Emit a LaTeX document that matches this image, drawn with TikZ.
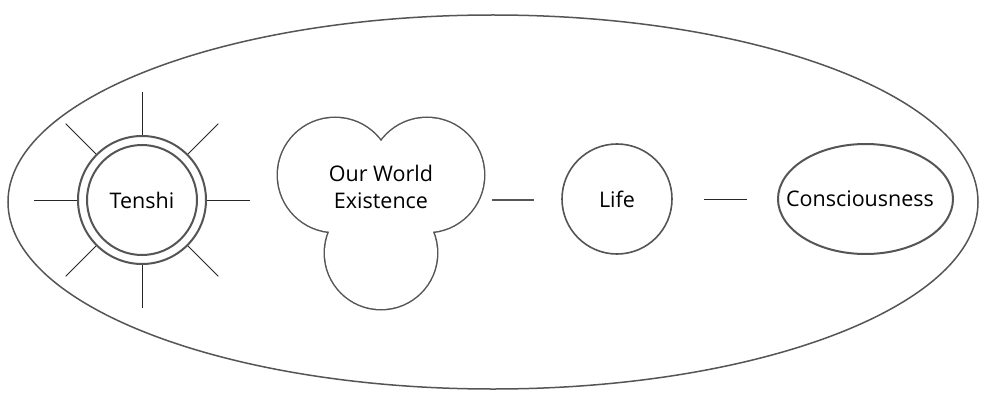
\documentclass[tikz,border=0pt]{standalone}
\usepackage{fontspec}
\setmainfont{Open Sans}
\usetikzlibrary{shapes.geometric,calc}
\definecolor{edge}{HTML}{555555}
\tikzset{
  shapeline/.style={draw=edge, line width=1.6pt},
  ray/.style={draw=black!85, line width=0.9pt},
  link/.style={draw=edge, line width=1.2pt},
  lbl/.style={font=\fontsize{21.5}{27}\selectfont, text=black, align=center},
}
\begin{document}
\begin{tikzpicture}[x=1pt,y=-1pt]
\useasboundingbox (0,0) rectangle (982,393);
\clip (0,0) rectangle (982,393);
\fill[white] (0,0) rectangle (982,393);
% cut-off text at top
\node[lbl, anchor=base, inner sep=0pt] (topfrag) at (196,-6) {y};
% outer ellipse
\draw[shapeline, line width=1.5pt] (493,202) ellipse [x radius=485, y radius=187];
% Tenshi
\coordinate (tc) at (142,200);
\foreach \a in {0,45,...,315} {
  \draw[ray] ($(tc)+(\a:64)$) -- ($(tc)+(\a:108)$);
}
\node[circle, shapeline, line width=2pt, minimum size=128pt, fill=white] (tenshiouter) at (tc) {};
\node[circle, shapeline, line width=2pt, minimum size=110pt, lbl] (tenshi) at (tc) {Tenshi};
% cloud: union of three circles
\coordinate (c1) at (335,175);
\coordinate (c2) at (427,175);
\coordinate (c3) at (381,253);
\draw[draw=edge, line width=3pt] (c1) circle (57) (c2) circle (57) (c3) circle (56);
\fill[white] (c1) circle (57) (c2) circle (57) (c3) circle (56);
\node[lbl] (world) at (381,187) {Our World\\Existence};
% Life
\node[circle, shapeline, minimum size=110pt, lbl] (life) at (617,199) {Life};
% Consciousness
\node[ellipse, shapeline, line width=2pt, minimum width=175pt, minimum height=110pt, inner sep=0pt] (consc) at (865.5,199) {};
\node[lbl, inner sep=0pt] (consclbl) at (860,199) {Consciousness};
% connectors
\coordinate (l1a) at (492,200);
\coordinate (l1b) at (534,200);
\draw[link] (l1a) -- (l1b);
\coordinate (l2a) at (704,199);
\coordinate (l2b) at (747,199);
\draw[ray] (l2a) -- (l2b);
\end{tikzpicture}
\end{document}
